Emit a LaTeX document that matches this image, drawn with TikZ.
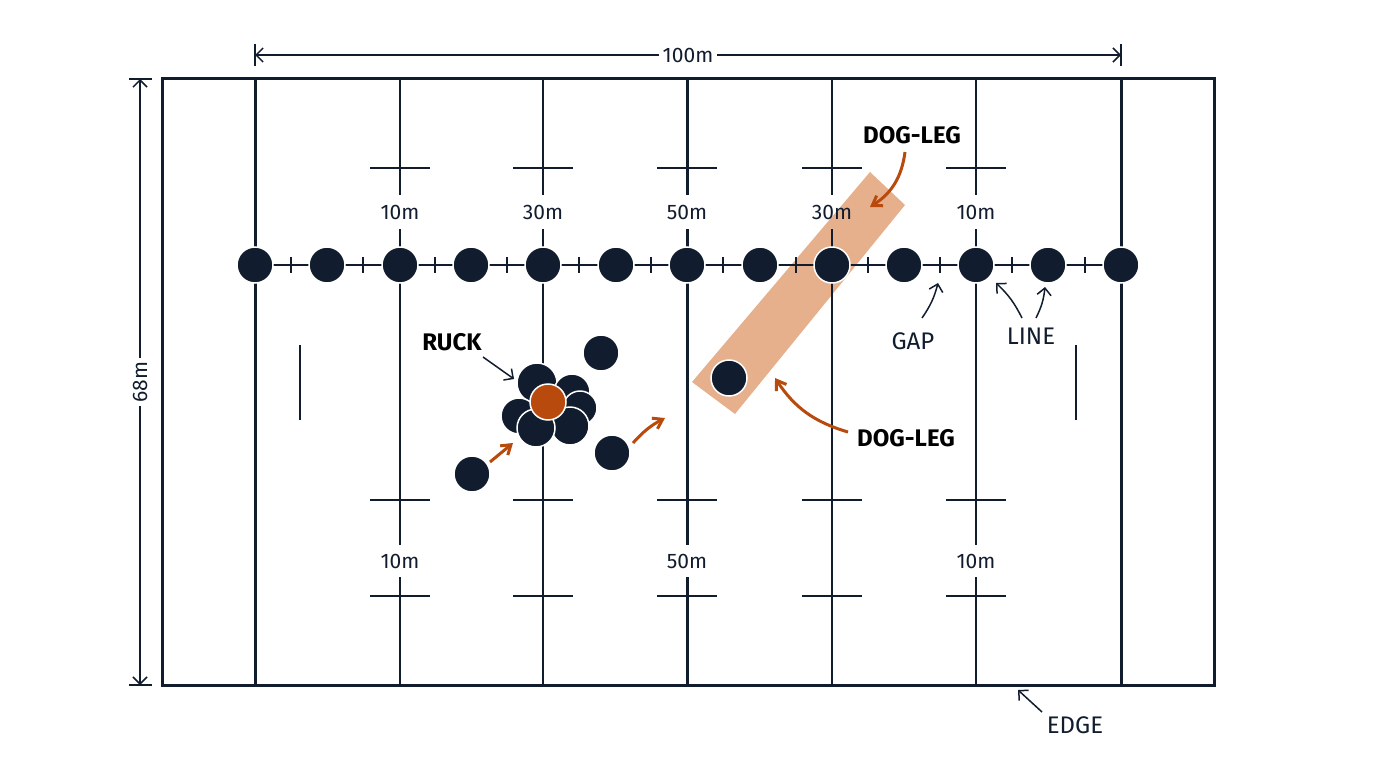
\documentclass[tikz,border=0pt]{standalone}
\usepackage{fontspec}
\setmainfont{Fira Sans}
\usetikzlibrary{arrows.meta}
\definecolor{navy}{HTML}{111D2E}
\definecolor{rust}{HTML}{B84A0E}
\definecolor{peach}{HTML}{E6B08C}
\begin{document}
\begin{tikzpicture}[x=1pt,y=-1pt,
 ln/.style={navy,line width=2pt},
 thick ln/.style={navy,line width=3pt},
 pl/.style={circle,fill=navy,draw=white,line width=1.5pt,minimum size=36pt,inner sep=0pt},
 lab/.style={font=\fontsize{21}{21}\selectfont,text=navy},
 blab/.style={font=\fontsize{24}{24}\selectfont\bfseries,text=black},
 narr/.style={navy,line width=1.5pt,-{Straight Barb[length=7pt]}},
 oarr/.style={rust,line width=3pt,-{Straight Barb[length=9pt,width=12pt]}}]
\useasboundingbox (0,0) rectangle (1376,768);
% dog-leg band
\fill[peach] (870,172) -- (905,205) -- (735,414) -- (692,382) -- cycle;
% field
\draw[thick ln] (162,79) rectangle (1214,685);
\draw[thick ln] (255,79) -- (255,685);
\draw[thick ln] (1121,79) -- (1121,685);
\draw[thick ln] (687,79) -- (687,195) (687,229) -- (687,545) (687,577) -- (687,685);
\foreach \x in {400,543,832,976}{
  \draw[ln] (\x,79) -- (\x,195) (\x,229) -- (\x,685);}
\foreach \x in {400,543,687,832,976}{
  \draw[ln] (\x-30,168) -- (\x+30,168);
  \draw[ln] (\x-30,500) -- (\x+30,500);
  \draw[ln] (\x-30,596) -- (\x+30,596);}
\foreach \x in {400,976}{\fill[white] (\x-2,545) rectangle (\x+2,577);}
\node[lab] (t1) at (400,212) {10m};
\node[lab] (t2) at (543,212) {30m};
\node[lab] (t3) at (687,212) {50m};
\node[lab] (t4) at (832,212) {30m};
\node[lab] (t5) at (976,212) {10m};
\node[lab] (b1) at (400,561) {10m};
\node[lab] (b2) at (687,561) {50m};
\node[lab] (b3) at (976,561) {10m};
\draw[ln] (300,345) -- (300,420);
\draw[ln] (1076,345) -- (1076,420);
% line of players
\draw[ln] (255,265) -- (1121,265);
\foreach \x in {291,363,435,507,579,651,723,796,868,940,1012,1085}{
  \draw[ln] (\x,257) -- (\x,273);}
\foreach \x [count=\i] in {255,327,400,471,543,616,687,760,832,904,976,1048,1121}{
  \node[pl] (p\i) at (\x,265) {};}
% dimension arrows
\coordinate (dl) at (255,55); \coordinate (dr) at (1121,55);
\draw[navy,line width=1.5pt] (255,44) -- (255,66) (1121,44) -- (1121,66);
\draw[navy,line width=1.5pt,{Straight Barb[length=7pt]}-{Straight Barb[length=7pt]}] (dl) -- node[fill=white,lab,inner sep=4pt] (d100) {100m} (dr);
\coordinate (vt) at (140,79); \coordinate (vb) at (140,685);
\draw[navy,line width=1.5pt] (129,79) -- (152,79) (129,685) -- (152,685);
\draw[navy,line width=1.5pt,{Straight Barb[length=7pt]}-{Straight Barb[length=7pt]}] (vt) -- node[fill=white,lab,inner sep=4pt,rotate=90] (d68) {68m} (vb);
% ruck
\node[pl,minimum size=40pt] (r1) at (537,383) {};
\node[pl,minimum size=36pt] (r2) at (572,392) {};
\node[pl,minimum size=34pt] (r3) at (580,408) {};
\node[pl,minimum size=36pt] (r4) at (519,416) {};
\node[pl,minimum size=38pt] (r6) at (570,426) {};
\node[pl,minimum size=38pt] (r5) at (536,428) {};
\node[circle,fill=rust,draw=white,line width=1.5pt,minimum size=36pt,inner sep=0pt] (ball) at (548,402) {};
\node[pl] (s1) at (601,353) {};
\node[pl] (s2) at (612,453) {};
\node[pl] (s3) at (472,474) {};
\node[pl] (dg) at (729,378) {};
% orange arrows
\draw[oarr] (490,462) -- (513,443);
\draw[oarr] (633,443) to[bend left=10] (665,418);
\draw[oarr] (905,152) to[bend left=25] (870,207);
\draw[oarr] (848,432) to[bend left=20] (775,378);
% labels
\node[blab] (ruck) at (452,342) {RUCK};
\draw[narr] (483,357) -- (514,379);
\node[blab] (dog1) at (912,135) {DOG-LEG};
\node[blab] (dog2) at (906,438) {DOG-LEG};
\node[lab,font=\fontsize{24}{24}\selectfont] (gap) at (913,341) {GAP};
\draw[narr] (922,318) to[bend right=10] (938,283);
\node[lab,font=\fontsize{24}{24}\selectfont] (line) at (1031,336) {LINE};
\draw[narr] (1022,318) to[bend right=10] (996,283);
\draw[narr] (1036,318) to[bend right=10] (1045,287);
\node[lab,font=\fontsize{24}{24}\selectfont] (edge) at (1075,725) {EDGE};
\draw[narr] (1042,712) -- (1018,690);
\end{tikzpicture}
\end{document}
